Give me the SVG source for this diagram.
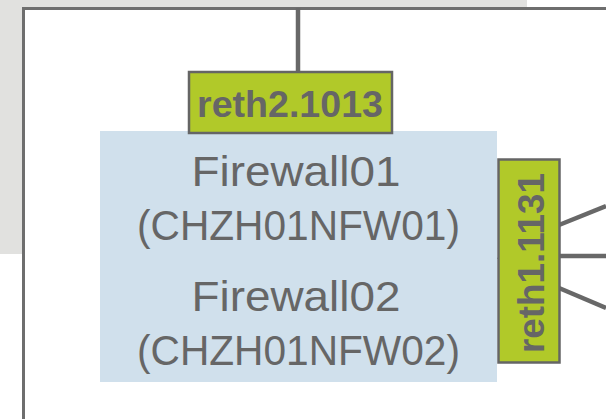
<svg xmlns="http://www.w3.org/2000/svg" width="606" height="419" viewBox="0 0 606 419">
<style>
.conn{stroke:#686868;stroke-width:4.5;fill:none}
.lbl{fill:#b1c929;stroke:#656565;stroke-width:2.5}
.lt{font-family:"Liberation Sans",Arial,sans-serif;font-weight:bold;font-size:36px;fill:#666666}
.nt{font-family:"Liberation Sans",Arial,sans-serif;font-size:43px;fill:#666666;text-anchor:middle}
</style>
<rect x="0" y="0" width="527" height="254" fill="#e1e1df"/>
<rect x="23.5" y="8.5" width="600" height="430" fill="#ffffff" stroke="#6e6e6e" stroke-width="3"/>
<g id="connectors">
<line class="conn" x1="298" y1="8" x2="298" y2="72"/>
<line class="conn" x1="559" y1="225" x2="606" y2="206"/>
<line class="conn" x1="559" y1="256" x2="606" y2="256"/>
<line class="conn" x1="559" y1="288" x2="606" y2="308"/>
<line x1="495.5" y1="255" x2="497.5" y2="259" stroke="#8a8a8a" stroke-width="1"/>
</g>
<g id="firewall">
<rect x="100" y="131" width="397" height="251" fill="#d0e0ec"/>
<text class="nt" x="296" y="186" textLength="209" lengthAdjust="spacingAndGlyphs">Firewall01</text>
<text class="nt" x="298.5" y="240" textLength="323" lengthAdjust="spacingAndGlyphs">(CHZH01NFW01)</text>
<text class="nt" x="296" y="311" textLength="209" lengthAdjust="spacingAndGlyphs">Firewall02</text>
<text class="nt" x="298.5" y="365" textLength="323" lengthAdjust="spacingAndGlyphs">(CHZH01NFW02)</text>
</g>
<g id="reth2">
<rect class="lbl" x="189" y="72" width="203" height="61"/>
<text class="lt" x="197" y="117" textLength="186" lengthAdjust="spacingAndGlyphs">reth2.1013</text>
</g>
<g id="reth1">
<rect class="lbl" x="498.5" y="159.5" width="61" height="203"/>
<text class="lt" transform="translate(544,353) rotate(-90)" x="0" y="0" textLength="180" lengthAdjust="spacingAndGlyphs">reth1.1131</text>
</g>
</svg>
